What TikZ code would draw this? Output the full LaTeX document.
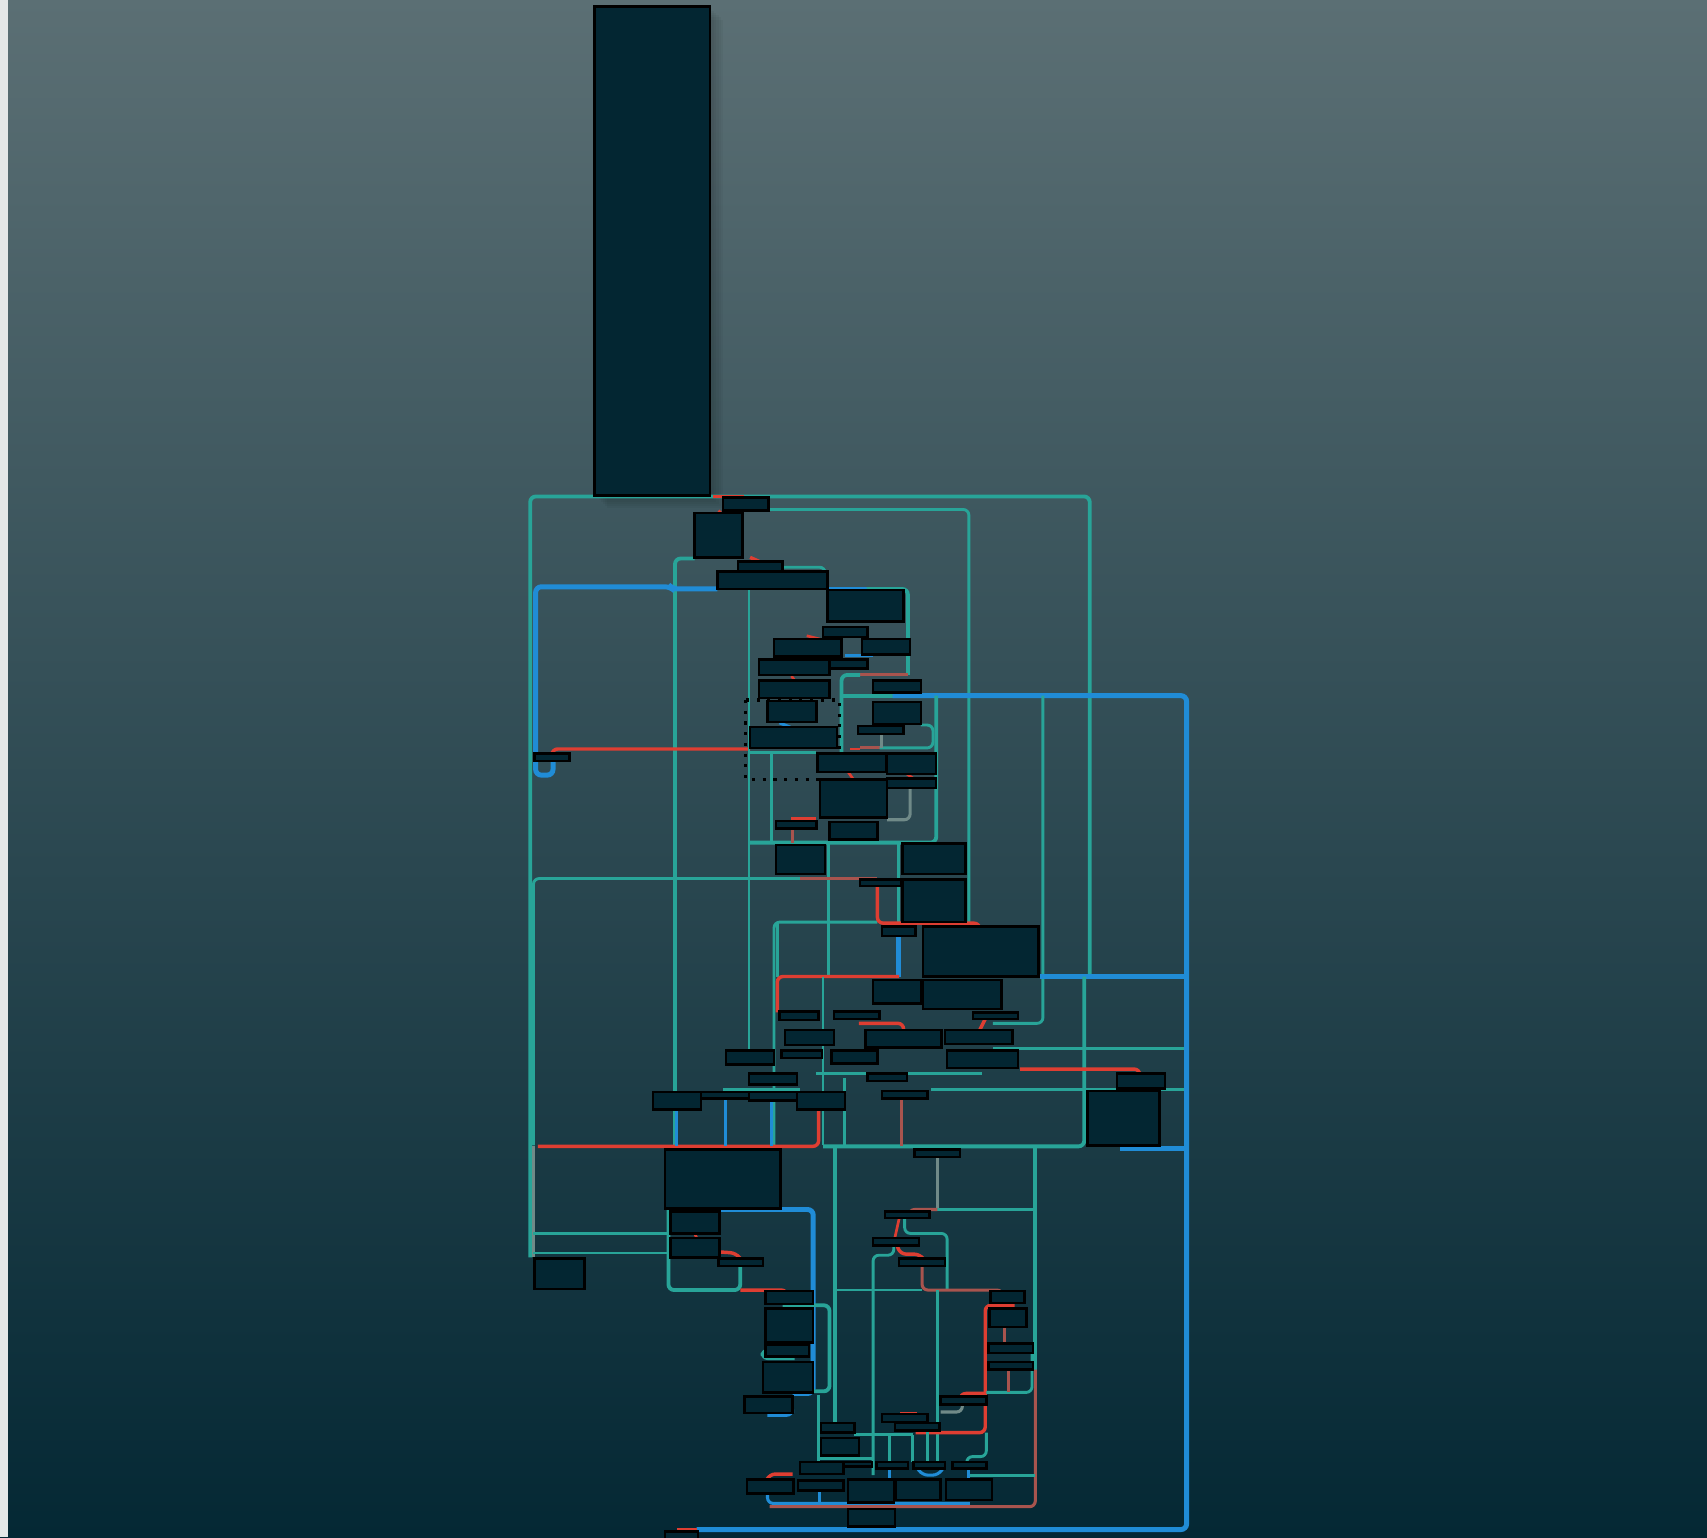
\documentclass[tikz,border=0pt]{standalone}
\usetikzlibrary{fit}
\definecolor{bgtop}{RGB}{91,111,116}
\definecolor{bgbot}{RGB}{4,40,52}
\definecolor{tealc}{RGB}{40,164,152}
\definecolor{bluec}{RGB}{32,140,214}
\definecolor{redc}{RGB}{222,62,50}
\definecolor{redm}{RGB}{168,84,78}
\definecolor{grayc}{RGB}{112,138,136}
\definecolor{boxc}{RGB}{3,38,50}
\definecolor{edgec}{RGB}{228,231,231}
\tikzset{
 tl/.style={draw=tealc, line width=1.0pt, rounded corners=1.5pt},
 tt/.style={draw=tealc, line width=0.75pt, rounded corners=1.5pt},
 bl/.style={draw=bluec, line width=1.3pt, rounded corners=1.5pt},
 bt/.style={draw=bluec, line width=0.8pt, rounded corners=1.5pt},
 rd/.style={draw=redc, line width=0.9pt, rounded corners=1.5pt},
 rt/.style={draw=redc, line width=0.7pt},
 rm/.style={draw=redm, line width=0.8pt, rounded corners=1.5pt},
 gy/.style={draw=grayc, line width=0.8pt, rounded corners=1.5pt},
 bx/.style={draw=black, line width=0.65pt, fill=boxc, inner sep=0pt, rectangle}
}
\newcommand{\bx}[5]{\node[bx, fit={(#2,#3) (#4,#5)}] (#1) {};}
\begin{document}
\begin{tikzpicture}[x=0.01cm,y=-0.01cm]
\useasboundingbox (0,0) rectangle (1568,1412);
\clip (0,0) rectangle (1568,1412);
\shade[top color=bgtop, bottom color=bgbot] (0,0) rectangle (1568,1412);
\fill[edgec] (0,0) rectangle (7,1412);
% soft shadow of the tall block
\foreach \d in {2,4,6,8,10}{
  \fill[black, opacity=0.035] (548+\d,8+\d) rectangle (654+\d,457+\d);
}
% ---------- connectors: upper part
\draw[tl] (487,1155)--(487,456)--(1001,456)--(1001,897);
\draw[rd] (655,456)--(683,456);
\draw[rt] (660,469)--(662,471);
\draw[tt] (706,468)--(890,468)--(890,851);
\draw[rd] (689,512)--(698,516);
\draw[tl] (638,513)--(620,513)--(620,1052);
\draw[tt] (718,521)--(758,521)--(758,525);
\draw[bl] (659,541)--(618,541)--(616,539)--(492,539)--(492,712)--(508,712)--(508,699);
\draw[bt] (760,541)--(796,541);
\draw[tl] (796,541)--(834,541)--(834,620);
\draw[rm] (834,620)--(790,620);
\draw[tl] (790,620)--(773,620)--(773,692);
\draw[tl] (773,639)--(820,639);
\draw[bl] (820,639)--(1090,639)--(1090,1405)--(640,1405);
\draw[rd] (640,1405)--(622,1405);
\draw[rt] (741,584)--(753,587);
\draw[bt] (776,602)--(802,602);
\draw[rt] (727,621)--(730,625);
\draw[bt] (716,664)--(726,668);
\draw[rd] (507,692)--(507,688)--(689,688);
\draw[tt] (688,541)--(688,965);
\draw[tt] (688,691)--(750,691);
\draw[tt] (709,691)--(709,774);
\draw[tl] (688,774)--(860,774)--(860,639);
\draw[rt] (781,688)--(790,688);
\draw[rm] (790,687)--(808,687);
\draw[tt] (808,687)--(857,687)--(857,666)--(846,666);
\draw[gy] (810,674)--(810,687);
\draw[rt] (833,711)--(839,715);
\draw[gy] (836,724)--(836,753)--(815,753);
\draw[rt] (779,709)--(784,716);
\draw[rd] (727,752)--(750,752);
\draw[rm] (728,761)--(728,774);
\draw[tt] (958,639)--(958,940)--(912,940);
\draw[tt] (761,774)--(761,897);
\draw[tt] (825,774)--(825,851);
\draw[bl] (825,860)--(825,897);
% ---------- middle
\draw[tt] (490,1052)--(490,807)--(735,807);
\draw[rm] (735,807)--(806,807);
\draw[tt] (711,1052)--(711,847)--(806,847);
\draw[rd] (806,814)--(806,848)--(900,848)--(900,851);
\draw[tt] (714,847)--(714,897);
\draw[rd] (714,930)--(714,897)--(826,897);
\draw[tt] (756,897)--(756,1052);
\draw[rd] (789,940)--(830,940)--(830,946);
\draw[rd] (905,936)--(900,946);
\draw[bl] (955,897)--(1088,897);
\draw[tl] (996,897)--(996,1053)--(756,1053);
\draw[tt] (912,963)--(1088,963);
\draw[tt] (855,1001)--(1088,1001);
\draw[tt] (664,1001)--(735,1001);
\draw[tt] (750,986)--(902,986);
\draw[rd] (937,982)--(1047,982)--(1047,986);
\draw[bl] (1029,1055)--(1088,1055);
\draw[rd] (494,1053)--(752,1053)--(752,1019);
\draw[bt] (621,1019)--(621,1053);
\draw[bt] (666,1009)--(666,1053);
\draw[bt] (709,1011)--(709,1053);
\draw[tt] (776,990)--(776,1053);
\draw[rm] (828,1009)--(828,1053);
% ---------- lower left
\draw[gy] (490,1053)--(490,1155);
\draw[tt] (490,1133)--(616,1133);
\draw[tt] (490,1151)--(616,1151);
\draw[tl] (614,1110)--(614,1185)--(680,1185)--(680,1163);
\draw[rd] (680,1185)--(723,1185)--(723,1187);
\draw[rt] (638,1133)--(640,1137);
\draw[rd] (661,1150)--(676,1151)--(680,1156);
\draw[bl] (661,1111)--(747,1111)--(747,1280)--(728,1280);
\draw[tl] (719,1199)--(762,1199)--(762,1278)--(747,1278);
\draw[tt] (703,1240)--(700,1240)--(700,1248)--(730,1248);
\draw[bt] (728,1298)--(728,1300)--(705,1300);
% ---------- lower right
\draw[tl] (767,1053)--(767,1307);
\draw[tl] (951,1053)--(951,1258);
\draw[rm] (951,1258)--(951,1384)--(707,1384);
\draw[gy] (861,1063)--(861,1111);
\draw[tt] (861,1111)--(951,1111);
\draw[rm] (861,1111)--(835,1111)--(835,1113);
\draw[tt] (831,1119)--(831,1133)--(870,1133)--(870,1185);
\draw[rt] (826,1119)--(822,1137);
\draw[tt] (802,1355)--(802,1153)--(821,1153)--(821,1144);
\draw[rd] (824,1144)--(827,1152)--(845,1152)--(848,1156);
\draw[rm] (847,1163)--(847,1185)--(921,1185)--(921,1186);
\draw[tt] (767,1185)--(847,1185);
\draw[tt] (861,1185)--(861,1343);
\draw[rd] (932,1199)--(905,1199)--(905,1316)--(841,1316);
\draw[rd] (905,1280)--(882,1280)--(882,1283);
\draw[rm] (923,1219)--(923,1234);
\draw[tt] (906,1279)--(948,1279)--(948,1243);
\draw[rm] (926,1258)--(926,1279);
\draw[gy] (884,1290)--(884,1297)--(864,1297);
\draw[rt] (827,1298)--(842,1298);
\draw[tt] (906,1316)--(906,1338)--(888,1338)--(888,1343);
\draw[tt] (790,1318)--(839,1318);
\draw[tt] (817,1318)--(817,1343);
\draw[tt] (838,1318)--(838,1343);
\draw[tt] (852,1314)--(852,1343);
\draw[tt] (891,1355)--(951,1355);
\draw[bt] (705,1373)--(705,1381)--(891,1381);
\draw[bt] (817,1349)--(817,1359);
\draw[bt] (843,1349)--(847,1355)--(862,1355)--(866,1349);
\draw[bt] (890,1349)--(890,1359);
\draw[bt] (753,1369)--(753,1381);
\draw[rd] (705,1358)--(707,1354)--(728,1354);
\draw[tt] (752,1281)--(752,1343);
\draw[tt] (752,1340)--(802,1340);
\draw[tt] (784,1318)--(808,1318);
% dotted selection frame
\draw[black, line width=0.8pt, dotted] (685,643) rectangle (771,716);
% ---------- blocks
\bx{n0}{546}{6}{652}{455}
\bx{n1}{664}{457}{706}{469}
\bx{n2}{638}{471}{682}{512}
\bx{n3}{678}{516}{719}{525}
\bx{n4}{659}{525}{760}{541}
\bx{n5}{760}{542}{830}{571}
\bx{n6}{756}{576}{797}{585}
\bx{n7}{711}{587}{773}{603}
\bx{n8}{792}{587}{836}{601}
\bx{n9}{697}{606}{762}{620}
\bx{n10}{762}{606}{797}{614}
\bx{n11}{697}{625}{762}{641}
\bx{n12}{802}{625}{846}{636}
\bx{n13}{705}{644}{750}{663}
\bx{n14}{802}{645}{846}{665}
\bx{n15}{788}{667}{830}{674}
\bx{n16}{689}{668}{769}{687}
\bx{n17}{751}{692}{814}{709}
\bx{n18}{815}{692}{860}{711}
\bx{n19}{815}{715}{860}{724}
\bx{n20}{753}{716}{815}{751}
\bx{n21}{713}{754}{750}{761}
\bx{n22}{762}{755}{806}{771}
\bx{n23}{713}{776}{758}{803}
\bx{n24}{829}{775}{887}{803}
\bx{n25}{790}{808}{828}{814}
\bx{n26}{829}{808}{887}{847}
\bx{n27}{810}{851}{841}{860}
\bx{n28}{848}{851}{954}{897}
\bx{n29}{802}{900}{846}{922}
\bx{n30}{848}{900}{920}{927}
\bx{n31}{894}{930}{935}{936}
\bx{n32}{716}{929}{752}{937}
\bx{n33}{766}{929}{808}{936}
\bx{n34}{721}{946}{766}{960}
\bx{n35}{795}{946}{865}{962}
\bx{n36}{868}{946}{930}{959}
\bx{n37}{667}{965}{711}{978}
\bx{n38}{718}{965}{755}{972}
\bx{n39}{764}{965}{806}{977}
\bx{n40}{870}{965}{935}{981}
\bx{n41}{688}{986}{732}{996}
\bx{n42}{797}{986}{833}{993}
\bx{n43}{600}{1003}{644}{1019}
\bx{n44}{644}{1003}{688}{1009}
\bx{n45}{688}{1003}{732}{1011}
\bx{n46}{732}{1003}{776}{1019}
\bx{n47}{810}{1002}{852}{1009}
\bx{n48}{1026}{986}{1070}{1000}
\bx{n49}{999}{1002}{1065}{1052}
\bx{n50}{840}{1056}{882}{1063}
\bx{n51}{611}{1056}{717}{1110}
\bx{n52}{616}{1113}{661}{1133}
\bx{n53}{616}{1137}{661}{1155}
\bx{n54}{660}{1156}{701}{1163}
\bx{n55}{491}{1156}{537}{1184}
\bx{n56}{813}{1113}{854}{1119}
\bx{n57}{802}{1137}{844}{1144}
\bx{n58}{826}{1156}{868}{1163}
\bx{n59}{703}{1186}{747}{1198}
\bx{n60}{703}{1202}{747}{1233}
\bx{n61}{703}{1235}{743}{1246}
\bx{n62}{701}{1251}{747}{1279}
\bx{n63}{684}{1283}{728}{1298}
\bx{n64}{910}{1186}{941}{1197}
\bx{n65}{909}{1202}{943}{1219}
\bx{n66}{908}{1234}{949}{1243}
\bx{n67}{908}{1251}{949}{1258}
\bx{n68}{864}{1283}{906}{1290}
\bx{n69}{810}{1299}{852}{1306}
\bx{n70}{822}{1307}{863}{1314}
\bx{n71}{754}{1307}{785}{1316}
\bx{n72}{754}{1321}{789}{1337}
\bx{n73}{735}{1343}{775}{1354}
\bx{n74}{775}{1343}{801}{1347}
\bx{n75}{805}{1343}{834}{1349}
\bx{n76}{839}{1343}{868}{1349}
\bx{n77}{875}{1343}{906}{1349}
\bx{n78}{686}{1359}{729}{1372}
\bx{n79}{733}{1360}{775}{1369}
\bx{n80}{779}{1359}{821}{1380}
\bx{n81}{823}{1359}{864}{1378}
\bx{n82}{869}{1359}{911}{1378}
\bx{n83}{779}{1386}{822}{1402}
\bx{n84}{611}{1407}{641}{1416}
\bx{n85}{491}{692}{523}{699}
\end{tikzpicture}
\end{document}
